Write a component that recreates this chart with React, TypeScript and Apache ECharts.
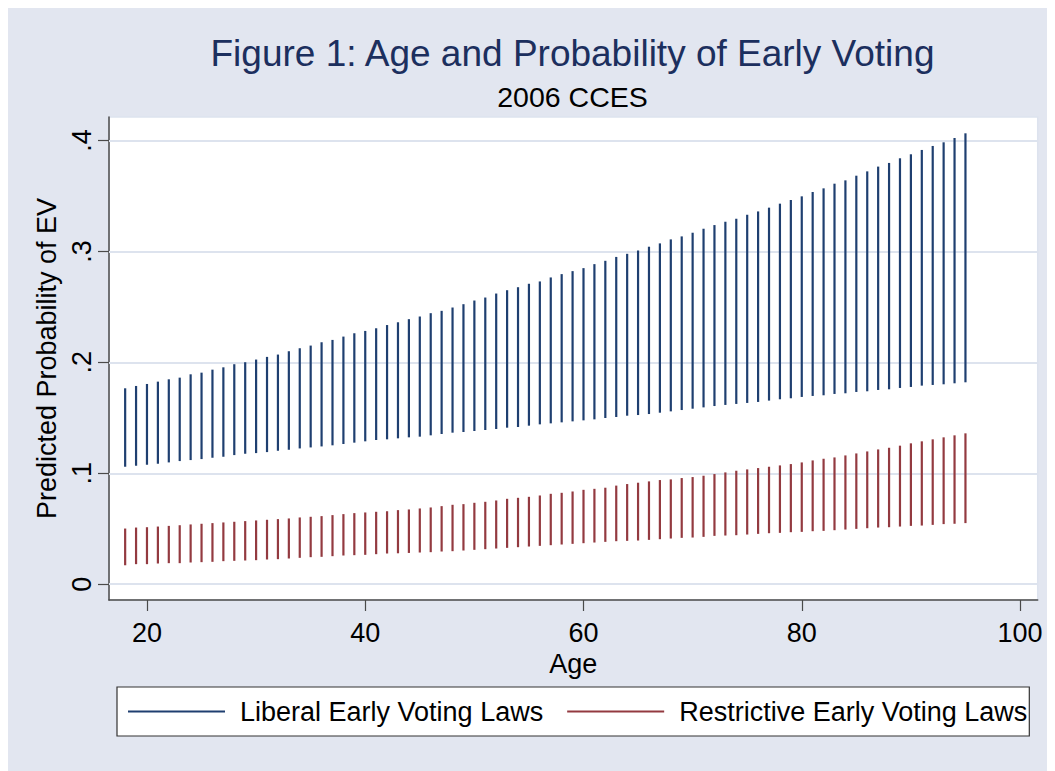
import React, { useEffect, useRef } from 'react';
import * as echarts from 'echarts';

const ages = [
  18, 19, 20, 21, 22, 23, 24, 25, 26, 27, 28, 29, 30, 31, 32, 33, 34, 35, 36, 37,
  38, 39, 40, 41, 42, 43, 44, 45, 46, 47, 48, 49, 50, 51, 52, 53, 54, 55, 56, 57,
  58, 59, 60, 61, 62, 63, 64, 65, 66, 67, 68, 69, 70, 71, 72, 73, 74, 75, 76, 77,
  78, 79, 80, 81, 82, 83, 84, 85, 86, 87, 88, 89, 90, 91, 92, 93, 94, 95,
];

const liberalHigh = [
  0.1766, 0.1787, 0.1805, 0.1826, 0.1847, 0.1862, 0.1892, 0.1907, 0.1934, 0.1955,
  0.1983, 0.2001, 0.2025, 0.2049, 0.207, 0.21, 0.2127, 0.2151, 0.2181, 0.2202,
  0.2232, 0.2262, 0.2283, 0.2307, 0.2336, 0.2361, 0.2389, 0.2413, 0.2443, 0.2464,
  0.2494, 0.2524, 0.2557, 0.2584, 0.262, 0.265, 0.2677, 0.2708, 0.2729, 0.2765,
  0.2795, 0.2822, 0.2849, 0.2885, 0.2915, 0.295, 0.2978, 0.3008, 0.3042, 0.3072,
  0.3108, 0.3135, 0.3168, 0.3204, 0.3237, 0.3267, 0.3294, 0.333, 0.336, 0.3394,
  0.343, 0.3463, 0.3496, 0.3535, 0.3568, 0.361, 0.364, 0.3682, 0.3721, 0.3764,
  0.3797, 0.3839, 0.3875, 0.3914, 0.395, 0.3983, 0.4022, 0.4064,
];

const liberalLow = [
  0.1059, 0.1068, 0.1077, 0.1086, 0.1098, 0.111, 0.1119, 0.1128, 0.114, 0.1149,
  0.1164, 0.1176, 0.1182, 0.1191, 0.1203, 0.1212, 0.1224, 0.1233, 0.1242, 0.1252,
  0.1264, 0.1276, 0.1288, 0.13, 0.1306, 0.1315, 0.1324, 0.133, 0.1342, 0.1354,
  0.1366, 0.1372, 0.1381, 0.139, 0.1399, 0.1411, 0.1417, 0.1429, 0.1441, 0.145,
  0.1459, 0.1468, 0.1477, 0.1486, 0.1498, 0.1507, 0.1519, 0.1525, 0.1534, 0.1546,
  0.1558, 0.157, 0.1582, 0.1594, 0.1606, 0.1616, 0.1625, 0.1634, 0.1643, 0.1655,
  0.1667, 0.1676, 0.1688, 0.1697, 0.1703, 0.1715, 0.1721, 0.1733, 0.1739, 0.1751,
  0.1757, 0.1769, 0.1778, 0.179, 0.1796, 0.1802, 0.1811, 0.182,
];

const restrictiveHigh = [
  0.0502, 0.0511, 0.0514, 0.052, 0.0526, 0.0532, 0.0539, 0.0545, 0.0551, 0.0557,
  0.0563, 0.0569, 0.0575, 0.0581, 0.0587, 0.0593, 0.0602, 0.0608, 0.0614, 0.0623,
  0.0632, 0.0641, 0.0647, 0.0653, 0.0658, 0.0668, 0.0674, 0.0683, 0.0692, 0.0704,
  0.0716, 0.0722, 0.0734, 0.0743, 0.0755, 0.077, 0.0779, 0.0788, 0.08, 0.0815,
  0.0824, 0.0836, 0.0851, 0.086, 0.087, 0.0889, 0.0903, 0.0915, 0.0927, 0.0939,
  0.0945, 0.0957, 0.0966, 0.0978, 0.0993, 0.1008, 0.1023, 0.1035, 0.1047, 0.1059,
  0.1071, 0.1083, 0.1098, 0.1116, 0.1131, 0.1143, 0.1161, 0.1179, 0.1197, 0.1215,
  0.123, 0.1249, 0.127, 0.1288, 0.1306, 0.1324, 0.1342, 0.136,
];

const restrictiveLow = [
  0.0171, 0.0181, 0.0181, 0.0187, 0.019, 0.019, 0.0196, 0.0199, 0.0202, 0.0208,
  0.0211, 0.0214, 0.0217, 0.0223, 0.0226, 0.0232, 0.0238, 0.0244, 0.0247, 0.0253,
  0.0259, 0.0262, 0.0265, 0.0271, 0.0277, 0.0279, 0.0282, 0.0286, 0.0289, 0.0295,
  0.0298, 0.0304, 0.031, 0.0316, 0.0322, 0.0328, 0.0334, 0.034, 0.0346, 0.0352,
  0.0358, 0.0364, 0.037, 0.0376, 0.0382, 0.0388, 0.0391, 0.0394, 0.04, 0.0406,
  0.0412, 0.0418, 0.0421, 0.0427, 0.0436, 0.0439, 0.0442, 0.0448, 0.0454, 0.046,
  0.0463, 0.0469, 0.0472, 0.0478, 0.0481, 0.0487, 0.0493, 0.0499, 0.0505, 0.0511,
  0.0514, 0.052, 0.0526, 0.0529, 0.0535, 0.0542, 0.0545, 0.0551,
];

const xTicks = [20, 40, 60, 80, 100];
const yTicks = [0, 0.1, 0.2, 0.3, 0.4];
const seriesNames = ['Liberal Early Voting Laws', 'Restrictive Early Voting Laws'];
const titleText = 'Figure 1: Age and Probability of Early Voting';
const subtitleText = '2006 CCES';
const xAxisName = 'Age';
const yAxisName = 'Predicted Probability of EV';

const FONT = "'Liberation Sans', Arial, Helvetica, sans-serif";
const BLUE = '#1f3f70';
const RED = '#933a40';
const GRID = '#dde3ee';
const AXIS = '#4a4a4a';
const FS = 27;

export default function App() {
  const ref = useRef<HTMLDivElement>(null);

  useEffect(() => {
    document.documentElement.style.overflow = 'hidden';
    document.body.style.overflow = 'hidden';
    const chart = echarts.init(ref.current as HTMLDivElement, null, { renderer: 'svg' });

    const mk = (lo: number[], hi: number[]) => ages.map((a, i) => [a, lo[i], hi[i]]);
    const renderItem = (color: string) => (params: any, api: any) => {
      const p1 = api.coord([api.value(0), api.value(1)]);
      const p2 = api.coord([api.value(0), api.value(2)]);
      return {
        type: 'line',
        shape: { x1: p1[0], y1: p1[1], x2: p2[0], y2: p2[1] },
        style: { stroke: color, lineWidth: 2.2 },
      };
    };

    chart.setOption({
      animation: false,
      backgroundColor: '#e2e6f0',
      graphic: [
        {
          type: 'text',
          x: 564.5,
          y: 45.5,
          style: {
            text: titleText,
            fill: '#1c2f5e',
            font: `37px ${FONT}`,
            textAlign: 'center',
            textVerticalAlign: 'middle',
          },
        },
        {
          type: 'text',
          x: 564.5,
          y: 89,
          style: {
            text: subtitleText,
            fill: '#000',
            font: `28.5px ${FONT}`,
            textAlign: 'center',
            textVerticalAlign: 'middle',
          },
        },
      ],
      grid: {
        left: 101,
        top: 109,
        right: 17.3,
        bottom: 171,
        show: true,
        backgroundColor: '#ffffff',
        borderColor: GRID,
        borderWidth: 1.5,
      },
      legend: {
        left: 109,
        top: 679,
        orient: 'horizontal',
        icon: 'rect',
        itemWidth: 97,
        itemHeight: 2,
        itemGap: 24,
        padding: [11, 2, 11, 11],
        backgroundColor: '#ffffff',
        borderColor: '#333333',
        borderWidth: 1.2,
        textStyle: { fontSize: FS, color: '#000', fontFamily: FONT, padding: [0, 0, 0, 10] },
        data: seriesNames,
      },
      xAxis: {
        type: 'value',
        min: 16.52,
        max: 101.62,
        name: xAxisName,
        nameLocation: 'middle',
        nameGap: 44,
        nameTextStyle: { fontSize: FS, color: '#000', fontFamily: FONT },
        axisLine: { show: true, onZero: false, lineStyle: { color: AXIS, width: 1.5 } },
        axisTick: { show: true, length: 11, customValues: xTicks, lineStyle: { color: AXIS, width: 1.2 } },
        axisLabel: { customValues: xTicks, margin: 19, fontSize: FS, color: '#000', fontFamily: FONT },
        splitLine: { show: false },
      },
      yAxis: {
        type: 'value',
        min: -0.0142,
        max: 0.4211,
        name: yAxisName,
        nameLocation: 'middle',
        nameGap: 44,
        nameTextStyle: { fontSize: FS, color: '#000', fontFamily: FONT },
        axisLine: { show: true, onZero: false, lineStyle: { color: AXIS, width: 1.5 } },
        axisTick: { show: true, length: 11, customValues: yTicks, lineStyle: { color: AXIS, width: 1.2 } },
        axisLabel: {
          customValues: yTicks,
          rotate: 90,
          margin: 14,
          fontSize: FS,
          color: '#000',
          fontFamily: FONT,
          formatter: (v: number) => (v === 0 ? '0' : String(Math.round(v * 10) / 10).replace(/^0/, '')),
        },
        splitLine: { show: false },
      },
      series: [
        {
          name: seriesNames[0],
          type: 'custom',
          z: 3,
          itemStyle: { color: BLUE },
          renderItem: renderItem(BLUE),
          encode: { x: 0, y: [1, 2] },
          data: mk(liberalLow, liberalHigh),
          markLine: {
            silent: true,
            z: 1,
            symbol: ['none', 'none'],
            label: { show: false },
            lineStyle: { color: GRID, width: 2, type: 'solid' },
            data: yTicks.map((v) => ({ yAxis: v })),
          },
        },
        {
          name: seriesNames[1],
          type: 'custom',
          z: 3,
          itemStyle: { color: RED },
          renderItem: renderItem(RED),
          encode: { x: 0, y: [1, 2] },
          data: mk(restrictiveLow, restrictiveHigh),
        },
      ],
    });

    return () => chart.dispose();
  }, []);

  return <div ref={ref} style={{ width: 1047, height: 763 }} />;
}
